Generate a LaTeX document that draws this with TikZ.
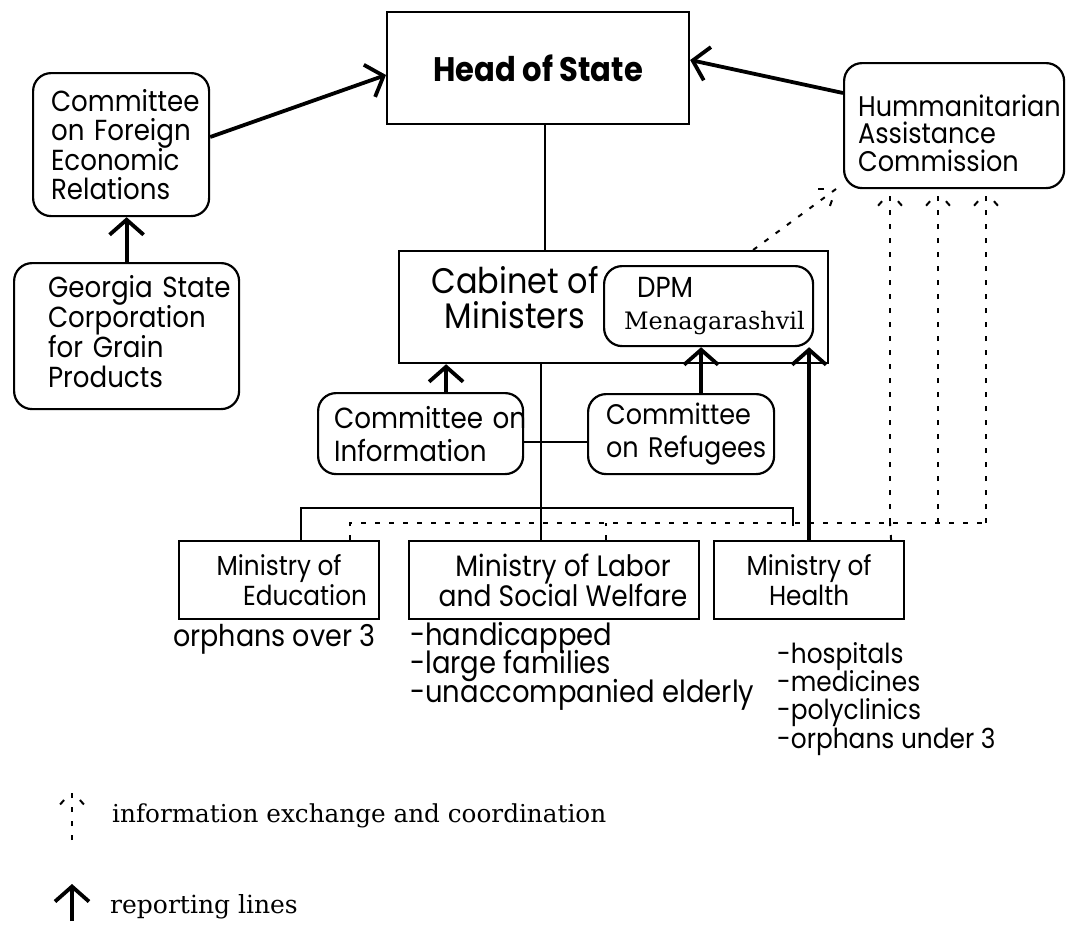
\documentclass[tikz,border=0pt]{standalone}
\usepackage{fontspec}
\newfontfamily\pop[FakeStretch=0.9]{Poppins}
\newfontfamily\ser{DejaVu Serif}
\usetikzlibrary{arrows.meta,calc}
\begin{document}
\lineskiplimit=-100pt
\begin{tikzpicture}[x=1pt,y=-1pt,
  box/.style={draw, line width=2.2pt, anchor=north west, inner ysep=0pt},
  rbox/.style={box, rounded corners=18pt},
  lbox/.style={rbox, align=left, text width=#1},
  conn/.style={line width=2pt},
  rep/.style={line width=3.8pt, -{Straight Barb[length=15pt,width=34pt]}},
  info/.style={line width=2pt, dash pattern=on 5pt off 9pt},
  infoarm/.style={line width=2pt, dash pattern=on 0pt off 12pt on 6pt off 30pt},
  every node/.append style={execute at begin node={\lineskiplimit=-100pt}}
]
\useasboundingbox (0,0) rectangle (1066,926);

% top level
\node[box, minimum width=302pt, minimum height=112pt, font=\pop\bfseries\fontsize{34}{38}\selectfont] (head) at (386,11) {Head of State};
\node[lbox=140pt, inner xsep=18pt, minimum width=176pt, minimum height=143pt, font=\pop\fontsize{29}{29.5}\selectfont] (cfer) at (32,72) {\mbox{Committee}\\\mbox{on Foreign}\\\mbox{Economic}\\\mbox{Relations}};
\node[lbox=157pt, inner xsep=34pt, minimum width=225pt, minimum height=146pt, font=\pop\fontsize{29}{30}\selectfont] (geo) at (13,262) {\mbox{Georgia State}\\\mbox{Corporation}\\\mbox{for Grain}\\\mbox{Products}\rule[-9pt]{0pt}{9pt}};
\node[lbox=192pt, inner xsep=14pt, minimum width=220pt, minimum height=125pt, font=\pop\fontsize{28.4}{27.5}\selectfont] (hac) at (843,62) {\rule{0pt}{37pt}\mbox{Hummanitarian}\\\mbox{Assistance}\\\mbox{Commission}};

% cabinet
\node[box, minimum width=429pt, minimum height=112pt] (cab) at (398,250) {};
\node[align=center, inner sep=0pt, font=\pop\fontsize{35.5}{35}\selectfont, anchor=base] (cabT) at (515,328) {Cabinet of\\Ministers};
\node[lbox=169pt, inner xsep=20pt, minimum width=209pt, minimum height=80pt, font=\pop\fontsize{29}{32}\selectfont] (dpm) at (603,265) {\hspace*{13pt}DPM\\\mbox{\ser\fontsize{24}{32}\selectfont Menagarashvil}};

% committees
\node[lbox=173pt, inner xsep=16pt, minimum width=205pt, minimum height=81pt, font=\pop\fontsize{29.1}{33}\selectfont] (cinfo) at (317,392) {\mbox{Committee on}\\\mbox{Information}};
\node[lbox=150pt, inner xsep=18pt, minimum width=186pt, minimum height=80pt, font=\pop\fontsize{28.3}{33}\selectfont] (cref) at (587,393) {\mbox{Committee}\\\mbox{on Refugees}};

% ministries
\node[box, align=center, minimum width=200pt, minimum height=78pt, font=\pop\fontsize{27.5}{30}\selectfont] (edu) at (178,540) {Ministry of\\\hspace*{52pt}Education};
\node[box, align=center, minimum width=290pt, minimum height=78pt, font=\pop\fontsize{29.5}{30}\selectfont] (lab) at (408,540) {\hspace*{18pt}Ministry of Labor\\\hspace*{18pt}and Social Welfare};
\node[box, align=center, minimum width=190pt, minimum height=78pt, font=\pop\fontsize{27.5}{30}\selectfont] (hea) at (713,540) {Ministry of\\Health};

% lists
\node[anchor=base west, inner sep=0pt, font=\pop\fontsize{30}{30}\selectfont] (eduL) at (173,646) {orphans over 3};
\node[anchor=base west, inner sep=0pt, align=left, font=\pop\fontsize{30.5}{28.5}\selectfont] (labL) at (410,702) {-handicapped\\-large families\\-unaccompanied elderly};
\node[anchor=base west, inner sep=0pt, align=left, font=\pop\fontsize{27.6}{28.3}\selectfont] (heaL) at (777,748) {-hospitals\\-medicines\\-polyclinics\\-orphans under 3};

% solid connectors
\draw[conn] ([xshift=7pt]head.south) -- ([xshift=7pt]head.south |- cab.north);
\draw[conn] ([xshift=-13pt]lab.north) -- ([xshift=-13pt]lab.north |- cab.south);
\coordinate (hstub) at (793,526);
\draw[conn] ([xshift=22pt]edu.north) |- (hstub |- 0,508) -- (hstub);
\draw[conn] ([yshift=-50pt]cinfo.north east) -- ([yshift=-49pt]cref.north west);

% reporting lines
\draw[rep] ([yshift=-65pt]cfer.north east) -- ([yshift=-64pt]head.north west);
\draw[rep] ([yshift=-31pt]hac.north west) -- ([yshift=-49pt]head.north east);
\draw[rep] (geo.north) -- (geo.north |- cfer.south);
\draw[rep] ([xshift=25.5pt]cinfo.north) -- ([xshift=25.5pt]cinfo.north |- cab.south);
\draw[rep] ([xshift=20pt]cref.north) -- ([xshift=20pt]cref.north |- dpm.south);
\draw[rep] (hea.north) -- (hea.north |- dpm.south);

% information exchange
\coordinate (d1) at (890,523);
\coordinate (d2) at (938,523);
\coordinate (d3) at (986,523);
\draw[info] ([xshift=71pt]edu.north) |- (d3);
\draw[info] ([xshift=52pt]lab.north) -- ([xshift=52pt]lab.north |- d1);
\draw[info] ([xshift=82pt]hea.north) -- (d1);
\foreach \d in {d1,d2,d3}{
  \draw[info] (\d) -- ([yshift=-3pt]\d |- hac.south);
  \draw[infoarm] ([yshift=-3pt]\d |- hac.south) -- ++(-15,17);
  \draw[infoarm] ([yshift=-3pt]\d |- hac.south) -- ++(15,17);
}
\coordinate (dtip) at (836,189);
\draw[info] ([xshift=139.5pt]cab.north) -- (dtip);
\draw[infoarm] (dtip) -- ++(-22,0);
\draw[infoarm] (dtip) -- ++(-7.4,20.7);

% legend
\coordinate (la) at (72,791);
\draw[info] (72,840) -- (la);
\draw[infoarm] (la) -- ++(-15,17);
\draw[infoarm] (la) -- ++(15,17);
\node[anchor=base west, inner sep=0pt, font=\ser\fontsize{24.7}{28}\selectfont] (legA) at (112,822) {information exchange and coordination};
\coordinate (lb) at (72,921);
\draw[rep] (lb) -- ++(0,-37);
\node[anchor=base west, inner sep=0pt, font=\ser\fontsize{25}{28}\selectfont] (legB) at (110,913) {reporting lines};
\end{tikzpicture}
\end{document}
